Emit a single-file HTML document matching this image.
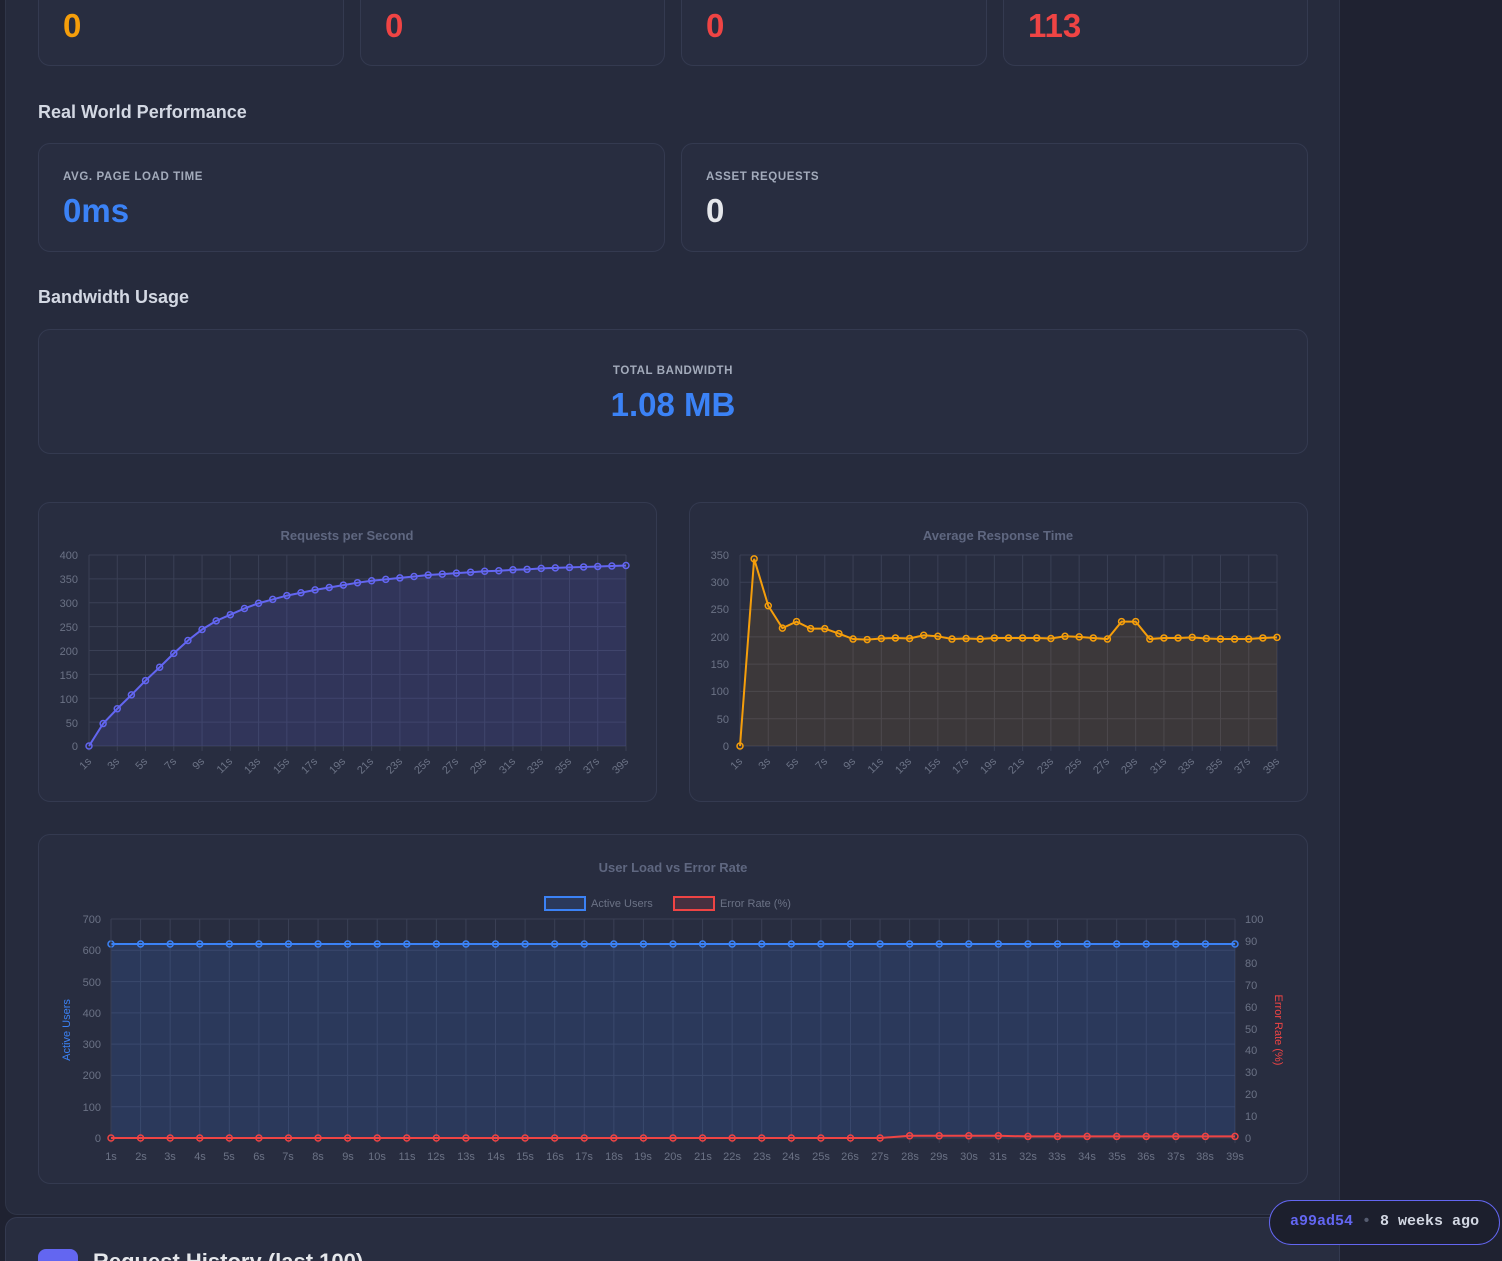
<!DOCTYPE html>
<html style="overflow:hidden;width:1502px;height:1261px"><head><meta charset="utf-8">
<style>
*{box-sizing:border-box;margin:0;padding:0}
body{width:1502px;height:1261px;overflow:hidden;background:#1f2231;font-family:"Liberation Sans",sans-serif;position:relative}
.main{position:absolute;left:5px;top:-20px;width:1335px;height:1235px;background:#262b3d;border:1px solid #2f3548;border-radius:12px}
.card{position:absolute;background:#282d40;border:1px solid #343a50;border-radius:12px}
.big{position:absolute;font-size:33px;font-weight:bold}
.h{position:absolute;left:38px;font-size:18px;font-weight:bold;color:#d3d8e3}
.lbl{position:absolute;font-size:11.5px;font-weight:bold;color:#a3abbb;letter-spacing:.6px}
svg text{font-family:"Liberation Sans",sans-serif}
.badge{position:absolute;left:1269px;top:1200px;width:231px;height:45px;border:1.5px solid #6366f1;border-radius:23px;background:#1c1f2d;font-family:"Liberation Mono",monospace;font-size:15px;font-weight:bold;line-height:42px;padding-left:20px;color:#d3d8e3;white-space:nowrap}
</style></head><body>
<div class="main"></div>
<div class="card" style="left:38px;top:-20px;width:306px;height:86px"></div>
<div class="card" style="left:360px;top:-20px;width:305px;height:86px"></div>
<div class="card" style="left:681px;top:-20px;width:306px;height:86px"></div>
<div class="card" style="left:1003px;top:-20px;width:305px;height:86px"></div>
<div class="big" style="left:63px;top:7px;color:#f59e0b">0</div>
<div class="big" style="left:385px;top:7px;color:#ef4444">0</div>
<div class="big" style="left:706px;top:7px;color:#ef4444">0</div>
<div class="big" style="left:1028px;top:7px;color:#ef4444">113</div>

<div class="h" style="top:102px">Real World Performance</div>
<div class="card" style="left:38px;top:143px;width:627px;height:109px"></div>
<div class="card" style="left:681px;top:143px;width:627px;height:109px"></div>
<div class="lbl" style="left:63px;top:171px">AVG. PAGE LOAD TIME</div>
<div class="big" style="left:63px;top:192px;color:#3b82f6">0ms</div>
<div class="lbl" style="left:706px;top:171px">ASSET REQUESTS</div>
<div class="big" style="left:706px;top:192px;color:#e5e7eb">0</div>

<div class="h" style="top:287px">Bandwidth Usage</div>
<div class="card" style="left:38px;top:329px;width:1270px;height:125px"></div>
<div class="lbl" style="left:0;width:1346px;text-align:center;top:365px">TOTAL BANDWIDTH</div>
<div class="big" style="left:0;width:1346px;text-align:center;top:386px;color:#3b82f6">1.08 MB</div>

<div class="card" style="left:38px;top:502px;width:619px;height:300px"></div>
<div class="card" style="left:689px;top:502px;width:619px;height:300px"></div>
<div class="card" style="left:38px;top:834px;width:1270px;height:350px"></div>
<div class="card" style="left:5px;top:1217px;width:1335px;height:44px;border-bottom:none;border-radius:12px 12px 0 0"></div>
<div style="position:absolute;left:38px;top:1249px;width:40px;height:12px;border-radius:8px 8px 0 0;background:#6366f1"></div>
<div style="position:absolute;left:93px;top:1251px;font-size:22px;font-weight:bold;color:#e5e7eb;height:10px;overflow:hidden;line-height:22px">Request History (last 100)</div>

<svg id="s" width="1502" height="1261" style="position:absolute;left:0;top:0" font-size="11" fill="#6b7285">
<g id="g"></g>
<text x="347" y="540" text-anchor="middle" font-size="13" font-weight="bold" fill="#5f6780">Requests per Second</text>
<text x="998" y="540" text-anchor="middle" font-size="13" font-weight="bold" fill="#5f6780">Average Response Time</text>
<text x="673" y="872" text-anchor="middle" font-size="13" font-weight="bold" fill="#5f6780">User Load vs Error Rate</text>
<rect x="545" y="897" width="40" height="13" fill="rgba(59,130,246,.15)" stroke="#3b82f6" stroke-width="2"/>
<text x="591" y="907">Active Users</text>
<rect x="674" y="897" width="40" height="13" fill="rgba(239,68,68,.15)" stroke="#ef4444" stroke-width="2"/>
<text x="720" y="907">Error Rate (%)</text>
<text transform="translate(70,1030) rotate(-90)" text-anchor="middle" fill="#3b82f6">Active Users</text>
<text transform="translate(1275,1030) rotate(90)" text-anchor="middle" fill="#ef4444">Error Rate (%)</text>
<g text-anchor="end">
<text x="78" y="559">400</text><text x="78" y="583">350</text><text x="78" y="607">300</text><text x="78" y="631">250</text><text x="78" y="655">200</text><text x="78" y="679">150</text><text x="78" y="703">100</text><text x="78" y="727">50</text><text x="78" y="750">0</text>
<text x="729" y="559">350</text><text x="729" y="586">300</text><text x="729" y="613">250</text><text x="729" y="641">200</text><text x="729" y="668">150</text><text x="729" y="695">100</text><text x="729" y="723">50</text><text x="729" y="750">0</text>
<text x="101" y="923">700</text><text x="101" y="954">600</text><text x="101" y="986">500</text><text x="101" y="1017">400</text><text x="101" y="1048">300</text><text x="101" y="1079">200</text><text x="101" y="1111">100</text><text x="101" y="1142">0</text>
</g>
<g>
<text x="1245" y="923">100</text><text x="1245" y="945">90</text><text x="1245" y="967">80</text><text x="1245" y="989">70</text><text x="1245" y="1011">60</text><text x="1245" y="1033">50</text><text x="1245" y="1054">40</text><text x="1245" y="1076">30</text><text x="1245" y="1098">20</text><text x="1245" y="1120">10</text><text x="1245" y="1142">0</text>
</g>
</svg>
<div class="badge"><span style="color:#6366f1">a99ad54</span> <span style="color:#555c70">•</span> 8 weeks ago</div>
<script>
const NS="http://www.w3.org/2000/svg",g=document.getElementById('g');
function el(t,a,p){const e=document.createElementNS(NS,t);for(const k in a)e.setAttribute(k,a[k]);(p||g).appendChild(e);return e;}
function chart(x0,x1,y0,y1,max,data,col,fill,step,hstep,r){
 const n=data.length,dx=(x1-x0)/(n-1);
 for(let v=0;v<=max;v+=hstep){const y=y1-(v/max)*(y1-y0);el('line',{x1:x0,x2:x1,y1:y,y2:y,stroke:'#3a4055'});}
 for(let i=0;i<n;i+=step){const x=x0+i*dx;el('line',{x1:x,x2:x,y1:y0,y2:y1+5,stroke:'#3a4055'});}
 const pts=data.map((v,i)=>[x0+i*dx,y1-(v/max)*(y1-y0)]);
 let d='M'+pts.map(p=>p.join(',')).join('L');
 el('path',{d:d+`L${x1},${y1}L${x0},${y1}Z`,fill:fill});
 el('path',{d:d,fill:'none',stroke:col,'stroke-width':2});
 pts.forEach(p=>el('circle',{cx:p[0],cy:p[1],r:r,fill:'none',stroke:col,'stroke-width':1.5}));
}
chart(89,626,555,746,400,[0,47,78,107,137,165,194,221,244,262,275,288,299,307,315,321,327,332,337,342,346,349,352,355,358,360,362,364,366,367,369,370,372,373,374,375,376,377,378],'#6366f1','rgba(99,102,241,.15)',2,50,3);
chart(740,1277,555,746,350,[0,343,257,216,228,215,215,206,196,195,197,198,197,203,201,196,197,196,198,198,198,198,197,201,200,198,196,228,228,196,198,198,199,197,196,196,196,198,199],'#f59e0b','rgba(245,158,11,.1)',2,50,3);
const u=[];for(let i=0;i<39;i++)u.push(620);
chart(111,1235,919,1138,700,u,'#3b82f6','rgba(59,130,246,.15)',1,100,3);
const e=[];for(let i=0;i<39;i++)e.push(i<27?0:(i<31?7:5));
chart(111,1235,919,1138,700,e,'#ef4444','none',100,1000,3);
</script>
<svg width="1502" height="1261" style="position:absolute;left:0;top:0" font-size="11" fill="#6b7285" font-family="Liberation Sans">
<g text-anchor="end">
<text transform="translate(92,762) rotate(-45)">1s</text><text transform="translate(120,762) rotate(-45)">3s</text><text transform="translate(148,762) rotate(-45)">5s</text><text transform="translate(177,762) rotate(-45)">7s</text><text transform="translate(205,762) rotate(-45)">9s</text><text transform="translate(233,762) rotate(-45)">11s</text><text transform="translate(261,762) rotate(-45)">13s</text><text transform="translate(290,762) rotate(-45)">15s</text><text transform="translate(318,762) rotate(-45)">17s</text><text transform="translate(346,762) rotate(-45)">19s</text><text transform="translate(374,762) rotate(-45)">21s</text><text transform="translate(403,762) rotate(-45)">23s</text><text transform="translate(431,762) rotate(-45)">25s</text><text transform="translate(459,762) rotate(-45)">27s</text><text transform="translate(487,762) rotate(-45)">29s</text><text transform="translate(516,762) rotate(-45)">31s</text><text transform="translate(544,762) rotate(-45)">33s</text><text transform="translate(572,762) rotate(-45)">35s</text><text transform="translate(600,762) rotate(-45)">37s</text><text transform="translate(629,762) rotate(-45)">39s</text>
<text transform="translate(743,762) rotate(-45)">1s</text><text transform="translate(771,762) rotate(-45)">3s</text><text transform="translate(799,762) rotate(-45)">5s</text><text transform="translate(828,762) rotate(-45)">7s</text><text transform="translate(856,762) rotate(-45)">9s</text><text transform="translate(884,762) rotate(-45)">11s</text><text transform="translate(912,762) rotate(-45)">13s</text><text transform="translate(941,762) rotate(-45)">15s</text><text transform="translate(969,762) rotate(-45)">17s</text><text transform="translate(997,762) rotate(-45)">19s</text><text transform="translate(1025,762) rotate(-45)">21s</text><text transform="translate(1054,762) rotate(-45)">23s</text><text transform="translate(1082,762) rotate(-45)">25s</text><text transform="translate(1110,762) rotate(-45)">27s</text><text transform="translate(1138,762) rotate(-45)">29s</text><text transform="translate(1167,762) rotate(-45)">31s</text><text transform="translate(1195,762) rotate(-45)">33s</text><text transform="translate(1223,762) rotate(-45)">35s</text><text transform="translate(1251,762) rotate(-45)">37s</text><text transform="translate(1280,762) rotate(-45)">39s</text>
</g>
<g text-anchor="middle">
<text x="111" y="1160">1s</text><text x="141" y="1160">2s</text><text x="170" y="1160">3s</text><text x="200" y="1160">4s</text><text x="229" y="1160">5s</text><text x="259" y="1160">6s</text><text x="288" y="1160">7s</text><text x="318" y="1160">8s</text><text x="348" y="1160">9s</text><text x="377" y="1160">10s</text><text x="407" y="1160">11s</text><text x="436" y="1160">12s</text><text x="466" y="1160">13s</text><text x="496" y="1160">14s</text><text x="525" y="1160">15s</text><text x="555" y="1160">16s</text><text x="584" y="1160">17s</text><text x="614" y="1160">18s</text><text x="643" y="1160">19s</text><text x="673" y="1160">20s</text><text x="703" y="1160">21s</text><text x="732" y="1160">22s</text><text x="762" y="1160">23s</text><text x="791" y="1160">24s</text><text x="821" y="1160">25s</text><text x="850" y="1160">26s</text><text x="880" y="1160">27s</text><text x="910" y="1160">28s</text><text x="939" y="1160">29s</text><text x="969" y="1160">30s</text><text x="998" y="1160">31s</text><text x="1028" y="1160">32s</text><text x="1057" y="1160">33s</text><text x="1087" y="1160">34s</text><text x="1117" y="1160">35s</text><text x="1146" y="1160">36s</text><text x="1176" y="1160">37s</text><text x="1205" y="1160">38s</text><text x="1235" y="1160">39s</text>
</g>
</svg>
</body></html>
